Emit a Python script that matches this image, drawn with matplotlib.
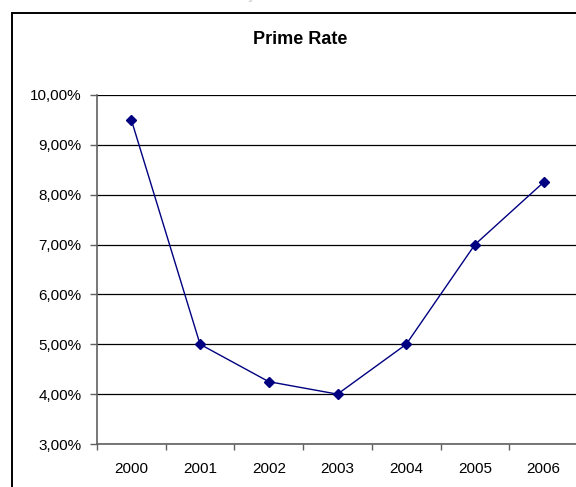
import matplotlib
matplotlib.use("Agg")
import matplotlib.pyplot as plt
from matplotlib.patches import Rectangle
from matplotlib.ticker import FixedLocator, FuncFormatter

plt.rcParams['font.family'] = ['Liberation Sans', 'DejaVu Sans']

years = ['2000', '2001', '2002', '2003', '2004', '2005', '2006']
prime_rate = [9.50, 5.00, 4.25, 4.00, 5.00, 7.00, 8.25]
y_ticks = [3, 4, 5, 6, 7, 8, 9, 10]

W, H = 576, 487
fig = plt.figure(figsize=(W / 100, H / 100), dpi=100)

# outer chart frame, running off the right and bottom edges
frame = Rectangle((12 / W, -0.05), 1.2, (H - 13) / H + 0.05,
                  transform=fig.transFigure, fill=False,
                  edgecolor='black', linewidth=1.4, clip_on=False)
fig.add_artist(frame)

# faint clipped heading above the frame
fig.text(298 / W, 1.0 + 0.5 / H, 'Variação da Taxa Prime', ha='center',
         va='baseline', fontsize=12, fontweight='bold', color='#d0d0d0')

fig.text(300 / W, 1 - 40 / H, 'Prime Rate', ha='center', va='center',
         fontsize=13, fontweight='bold', color='black')

left, right = 97 / W, 578 / W
bottom, top = (H - 444) / H, (H - 95) / H
ax = fig.add_axes([left, bottom, right - left, top - bottom])

x = list(range(len(years)))
ax.plot(x, prime_rate, color='#000080', linewidth=1.0, marker='D',
        markersize=5, markerfacecolor='#000080', markeredgecolor='#000080',
        zorder=3, clip_on=False)

ax.set_xlim(-0.5, len(years) - 0.5)
ax.set_ylim(3, 10)
ax.set_yticks(y_ticks)
ax.yaxis.set_major_formatter(FuncFormatter(lambda v, p: f"{v:.2f}%".replace('.', ',')))
ax.set_xticks(x)
ax.set_xticklabels(years)
ax.xaxis.set_minor_locator(FixedLocator([i - 0.5 for i in range(len(years) + 1)]))

ax.grid(axis='y', color='black', linewidth=0.9)
ax.set_axisbelow(True)

for s in ['top', 'right']:
    ax.spines[s].set_visible(False)
ax.spines['left'].set_color('#606060')
ax.spines['bottom'].set_color('#606060')
ax.spines['left'].set_linewidth(1.2)
ax.spines['bottom'].set_linewidth(1.2)

ax.tick_params(axis='y', which='major', length=5, width=1, color='#606060',
               labelsize=11, pad=6)
ax.tick_params(axis='x', which='major', length=0, labelsize=11, pad=13)
ax.tick_params(axis='x', which='minor', length=4, width=1, color='#606060',
               direction='out')

fig.savefig('out.png', dpi=100)
